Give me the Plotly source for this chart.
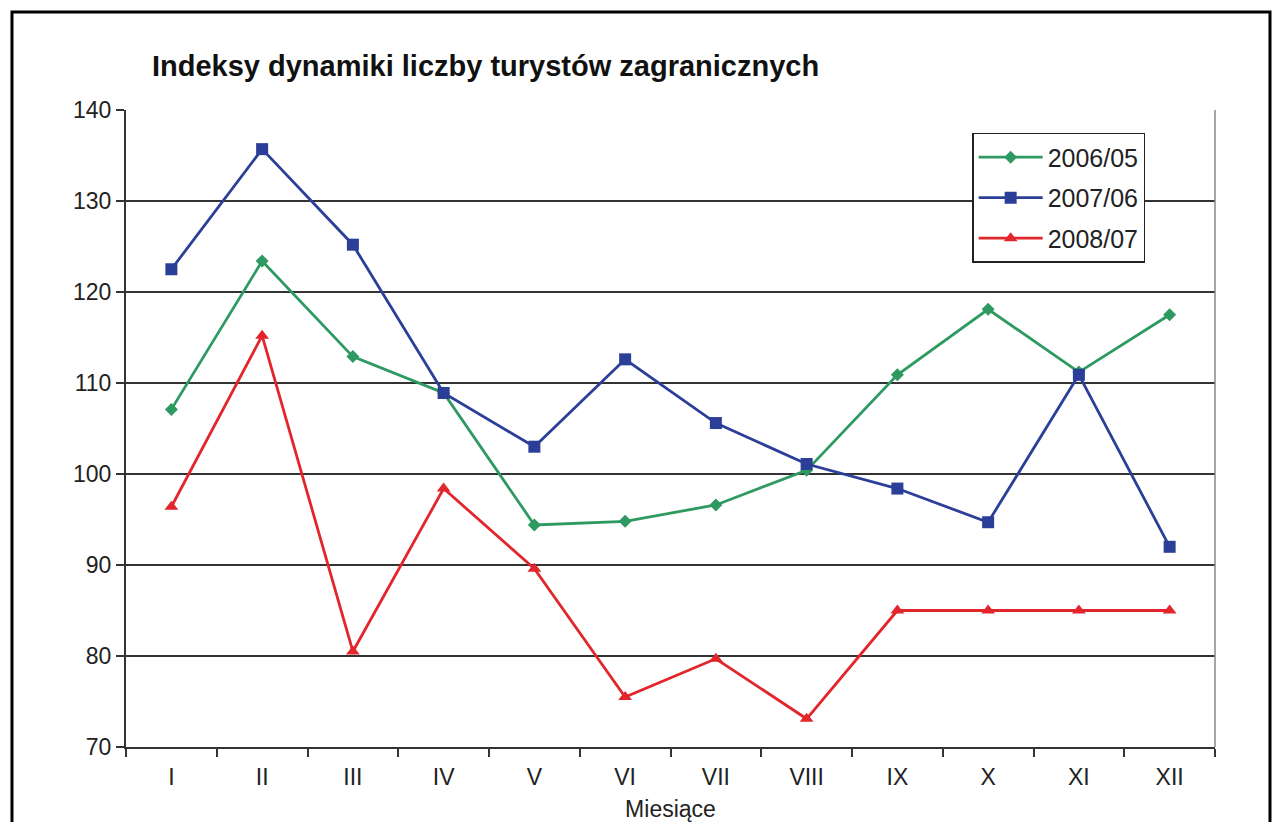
import plotly.graph_objects as go

months = ['I', 'II', 'III', 'IV', 'V', 'VI', 'VII', 'VIII', 'IX', 'X', 'XI', 'XII']
series_names = ['2006/05', '2007/06', '2008/07']
idx_2006 = [107.1, 123.4, 112.9, 108.9, 94.4, 94.8, 96.6, 100.4, 110.9, 118.1, 111.2, 117.5]
idx_2007 = [122.5, 135.7, 125.2, 108.9, 103.0, 112.6, 105.6, 101.1, 98.4, 94.7, 110.9, 92.0]
idx_2008 = [96.4, 115.2, 80.5, 98.4, 89.6, 75.5, 79.7, 73.1, 85.0, 85.0, 85.0, 85.0]

colors = ['#2e9a62', '#2b3f98', '#e2262c']
symbols = ['diamond', 'square', 'triangle-up']
sizes = [10, 12, 12]

fig = go.Figure()
for name, vals, c, s, sz in zip(series_names, [idx_2006, idx_2007, idx_2008], colors, symbols, sizes):
    fig.add_trace(go.Scatter(
        x=months, y=vals, name=name, legendgroup=name, mode='lines+markers',
        line=dict(color=c, width=2.8),
        marker=dict(symbol=s, size=sz, color=c)
    ))

# the page adds an 8px body margin, so the figure is 16px smaller than the window
fig.update_layout(
    width=1265, height=814,
    margin=dict(l=118, r=58, t=102, b=75),
    paper_bgcolor='white', plot_bgcolor='white',
    font=dict(family='Liberation Sans, Arial, sans-serif', size=22, color='#222'),
    title=dict(
        text='<b>Indeksy dynamiki liczby turystów zagranicznych</b>',
        x=0.1138, xanchor='left', y=0.9287, yanchor='middle',
        font=dict(size=29, color='#111')
    ),
    legend=dict(
        x=0.777, y=0.964, xanchor='left', yanchor='top',
        bordercolor='#222', borderwidth=1.5, bgcolor='white',
        font=dict(size=25), tracegroupgap=5, itemwidth=64
    ),
    showlegend=True,
)

fig.update_xaxes(
    type='category', range=[-0.5, 11.5], tickson='boundaries',
    ticks='outside', ticklen=8, tickcolor='#333', tickwidth=1.5,
    ticklabelstandoff=8, automargin=False,
    showline=True, linecolor='#333', linewidth=2,
    showgrid=False, title=dict(text='Miesiące', standoff=16, font=dict(size=23)),
    tickfont=dict(size=23)
)
fig.update_yaxes(
    range=[70, 140], dtick=10, ticks='outside', ticklen=8,
    tickcolor='#333', tickwidth=1.5, automargin=False,
    showline=True, linecolor='#333', linewidth=2,
    showgrid=True, gridcolor='#333', gridwidth=2,
    zeroline=False, tickfont=dict(size=23)
)

# right edge of plot area
fig.add_shape(type='line', xref='paper', yref='paper', x0=1, x1=1, y0=0, y1=1,
              line=dict(color='#888', width=1.5))
# outer frame
fig.add_shape(type='rect', xref='paper', yref='paper',
              x0=-0.1047, x1=1.0505, y0=-0.14, y1=1.1538,
              line=dict(color='black', width=3))

fig.write_html('out.html')
